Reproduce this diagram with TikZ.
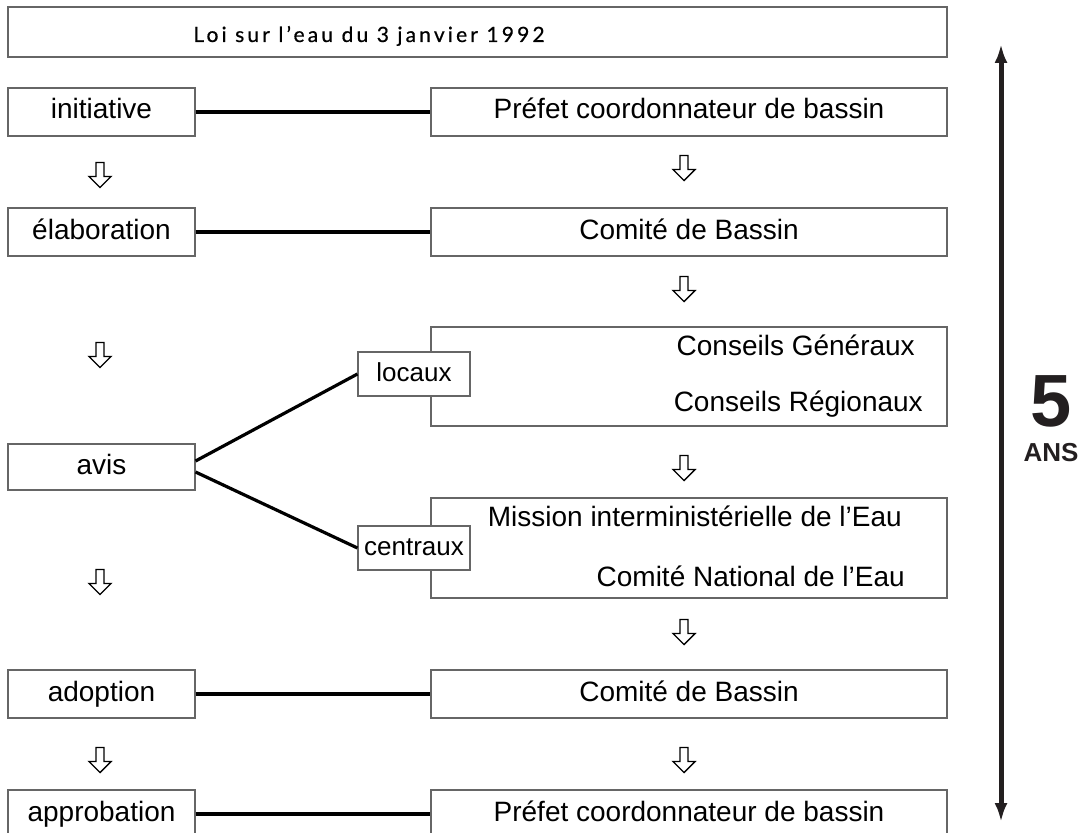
\documentclass[tikz,border=0pt]{standalone}
\usepackage{fontspec}
\setmainfont{Liberation Sans}
\newfontfamily\titlefnt[LetterSpace=15,FakeBold=0.6]{Lato}
\usetikzlibrary{arrows.meta}
\newcommand\bodyfnt{\fontsize{28}{32}\selectfont}
\newcommand\smallfnt{\fontsize{26}{30}\selectfont}
\definecolor{ink}{RGB}{35,31,32}
\begin{document}
\begin{tikzpicture}[x=1pt,y=-1pt,
  box/.style={draw=black!60,line width=1.1pt,fill=white,inner sep=0pt,font=\bodyfnt,text height=20pt,text depth=6pt,anchor=center},
  lbox/.style={box,minimum width=187pt,minimum height=48pt},
  rbox/.style={box,minimum width=516pt,minimum height=48pt},
  sbox/.style={box,font=\smallfnt,minimum width=112pt,minimum height=44pt},
  link/.style={line width=3.2pt,black},
  txt/.style={font=\bodyfnt,inner sep=0pt,anchor=base east},
  hollow/.pic={\draw[line width=1.4pt,line join=miter] (-4,-12.5) -- (4,-12.5) -- (4,1.5) -- (11,1.5) -- (0,12.5) -- (-11,1.5) -- (-4,1.5) -- cycle;}
]
\path[use as bounding box] (0,0) rectangle (1086,832);
\clip (0,0) rectangle (1086,832);

% title
\node[box,minimum width=939pt,minimum height=50pt] (titre) at (477.5,32) {};
\node[font=\titlefnt\fontsize{21}{24}\selectfont,anchor=base,inner sep=0pt] (titretxt) at (369,42) {Loi sur l’eau du 3 janvier 1992};

% left column
\node[lbox] (init) at (101.5,112) {initiative\hspace{10pt}};
\node[lbox] (elab) at (101.5,232) {élaboration\hspace{10pt}};
\node[lbox,minimum height=46pt] (avis) at (101.5,467) {avis\hspace{10pt}};
\node[lbox] (adop) at (101.5,694) {adoption\hspace{10pt}};
\node[lbox] (appr) at (101.5,814) {approbation\hspace{14pt}};

% right column
\node[rbox] (pref1) at (689,112) {Préfet coordonnateur de bassin\hspace{20pt}};
\node[rbox] (com1) at (689,232) {Comité de Bassin\hspace{14pt}};
\node[rbox,minimum height=99pt] (cons) at (689,376.5) {};
\node[txt] (cg) at (915,355) {Conseils Généraux};
\node[txt] (cr) at (923,411) {Conseils Régionaux};
\node[rbox,minimum height=100pt] (miss) at (689,548) {};
\node[txt] (mi) at (902,526) {Mission interministérielle de l’Eau};
\node[txt] (cn) at (905,586) {Comité National de l’Eau};
\node[rbox] (com2) at (689,694) {Comité de Bassin\hspace{14pt}};
\node[rbox] (pref2) at (689,814) {Préfet coordonnateur de bassin\hspace{20pt}};

% small boxes
\node[sbox] (loc) at (414,374) {locaux\hspace{6pt}};
\node[sbox] (cen) at (414,548) {centraux\hspace{6pt}};

% connectors
\draw[link] (init) -- (pref1);
\draw[link] (elab) -- (com1);
\draw[link] (adop) -- (com2);
\draw[link] (appr) -- (pref2);
\draw[link] ([yshift=6pt]avis.east) -- (loc.west);
\draw[link] ([yshift=-5pt]avis.east) -- (cen.west);

% hollow down arrows
\foreach \yy in {175,355,582,760} \pic at (100,\yy) {hollow};
\foreach \yy in {168,289,468,632,760} \pic at (684,\yy) {hollow};

% duration arrow
\coordinate (ht) at (1001,44);
\coordinate (hb) at (1001,822);
\draw[ink,line width=5pt,{Latex[length=19pt,width=13pt]}-{Latex[length=19pt,width=13pt]}] (ht) -- (hb);
\node[ink,font=\fontsize{74}{78}\selectfont\bfseries,anchor=base,inner sep=0pt] (cinq) at (1051,426) {5};
\node[ink,font=\fontsize{26}{28}\selectfont\bfseries,anchor=base,inner sep=0pt] (ans) at (1051,461) {ANS};
\end{tikzpicture}
\end{document}
